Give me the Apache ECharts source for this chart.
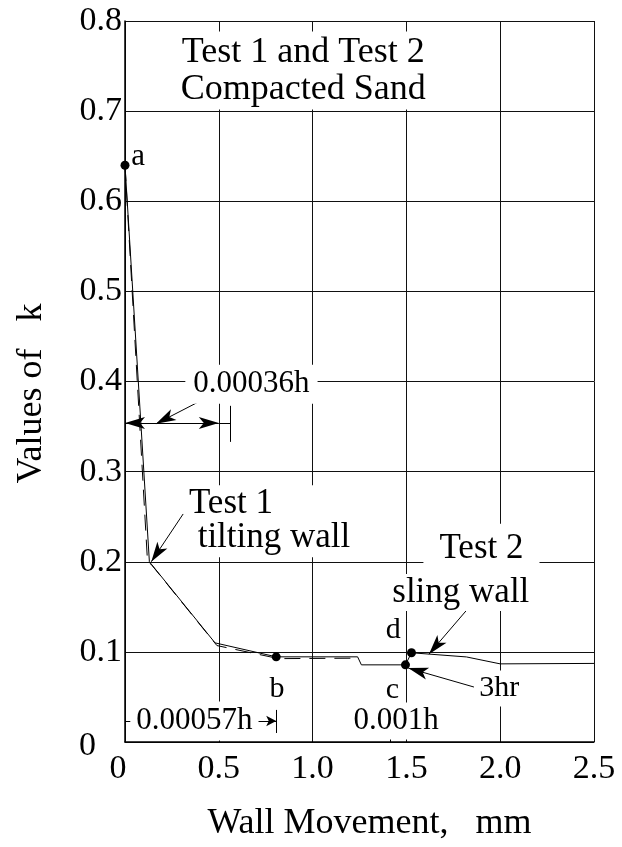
<!DOCTYPE html>
<html><head><meta charset="utf-8">
<script src="https://cdn.jsdelivr.net/npm/echarts@6/dist/echarts.min.js"></script>
<style>html,body{margin:0;padding:0;background:#fff}#c{width:622px;height:847px}</style>
</head><body><div id="c"></div>
<script>
const FONT = "'Liberation Serif','Times New Roman',serif";

// ---- data ----
const xTickLabels = ['0', '0.5', '1.0', '1.5', '2.0', '2.5'];
const yTickLabels = ['0', '0.1', '0.2', '0.3', '0.4', '0.5', '0.6', '0.7', '0.8'];
// Test 1 (tilting wall), solid
const test1X = [0, 0.13, 0.48, 0.806, 1.24, 1.26, 1.495];
const test1K = [0.64, 0.2, 0.11, 0.0945, 0.0945, 0.0856, 0.0856];
// companion (dashed) curve
const test1bX = [0, 0.12, 0.14, 0.49, 0.82, 1.22];
const test1bK = [0.64, 0.2, 0.197, 0.107, 0.0925, 0.093];
// Test 2 (sling wall) after 3 hr
const test2X = [1.495, 1.527, 1.82, 2.0, 2.5];
const test2K = [0.0856, 0.099, 0.0944, 0.0867, 0.0872];
// marked points a, b, c, d
const ptNames = ['a', 'b', 'c', 'd'];
const ptX = [0, 0.806, 1.495, 1.527];
const ptK = [0.64, 0.0945, 0.0856, 0.099];

const zip = (xs, ys) => xs.map((x, i) => [x, ys[i]]);

// ---- annotation layout (positions in axis units) ----
const notes = [
  {t: 'Test 1 and Test 2\nCompacted Sand', p: [0.95, 0.745], fs: 36, lh: 37, bg: true, pad: [3, 10, 1, 10]},
  {t: 'a', p: [0.07, 0.649], fs: 31},
  {t: '0.00036h', p: [0.674, 0.397], fs: 31, bg: true, pad: [4, 8, 4, 8]},
  {t: 'Test 1\n tilting wall', p: [0.33, 0.245], fs: 35, lh: 34, bg: true, pad: [2, 4, 2, 2], left: true},
  {t: 'Test 2', p: [1.90, 0.214], fs: 35, bg: true, pad: [10, 16, 6, 16]},
  {t: 'sling wall', p: [1.79, 0.166], fs: 35, bg: true, pad: [2, 4, 0, 4]},
  {t: 'd', p: [1.43, 0.124], fs: 30},
  {t: 'b', p: [0.81, 0.059], fs: 30},
  {t: 'c', p: [1.425, 0.058], fs: 30},
  {t: '3hr', p: [1.995, 0.0595], fs: 30, bg: true, pad: [3, 4, 3, 4]},
  {t: '0.001h', p: [1.445, 0.0233], fs: 31, bg: true, pad: [3, 3, 3, 3]},
  {t: '0.00057h', p: [0.37, 0.0233], fs: 31, bg: true, pad: [4, 6, 4, 6]}
];
const arrowSize = [9, 20];
const lines = [
  // 0.00036h dimension
  {a: [0, 0.354], b: [0.5, 0.354], sa: 'arrow', sb: 'arrow'},
  {a: [0.5, 0.354], b: [0.56, 0.354]},
  {a: [0.56, 0.373], b: [0.56, 0.333]},
  {a: [0.454, 0.384], b: [0.165, 0.353], sb: 'arrow'},
  // Test 1 pointer
  {a: [0.31, 0.253], b: [0.14, 0.2], sb: 'arrow'},
  // sling wall pointer
  {a: [1.824, 0.147], b: [1.62, 0.0975], sb: 'arrow'},
  // 3hr pointer
  {a: [1.86, 0.061], b: [1.51, 0.082], sb: 'arrow'},
  // 0.00057h
  {a: [0, 0.0233], b: [0.07, 0.0233]},
  {a: [0.69, 0.0233], b: [0.806, 0.0233], sb: 'arrow', size: [8, 10]},
  {a: [0.806, 0.0356], b: [0.806, 0.010]},
  // 0.001h tick
  {a: [1.415, 0.011], b: [1.415, 0]}
];

const chart = echarts.init(document.getElementById('c'), null, {renderer: 'canvas'});
const txt = {fontFamily: FONT, color: '#000'};

chart.setOption({
  backgroundColor: '#fff',
  animation: false,
  grid: {left: 125, right: 28, top: 21, bottom: 103},
  xAxis: {
    type: 'value', min: 0, max: 2.5, interval: 0.5,
    name: 'Wall Movement,   mm', nameLocation: 'middle', nameGap: 64,
    nameTextStyle: Object.assign({fontSize: 36, padding: [0, 0, 0, 20]}, txt),
    axisLine: {lineStyle: {color: '#000', width: 1.5}},
    axisTick: {show: false},
    splitLine: {show: true, lineStyle: {color: '#111', width: 1}},
    axisLabel: Object.assign({
      fontSize: 34, margin: 10,
      formatter: (v) => { const s = xTickLabels[Math.round(v / 0.5)]; return s === '0' ? '{z|0}' : s; },
      rich: {z: {fontSize: 34, fontFamily: FONT, color: '#000', padding: [0, 14, 0, 0]}}
    }, txt)
  },
  yAxis: {
    type: 'value', min: 0, max: 0.8, interval: 0.1,
    name: 'Values of   k', nameLocation: 'middle', nameGap: 75, nameRotate: 90,
    nameTextStyle: Object.assign({fontSize: 36, padding: [0, 24, 0, 0]}, txt),
    axisLine: {lineStyle: {color: '#000', width: 1.5}},
    axisTick: {show: false},
    splitLine: {show: true, lineStyle: {color: '#111', width: 1}},
    axisLabel: Object.assign({
      fontSize: 34, margin: 3,
      formatter: (v) => { const s = yTickLabels[Math.round(v / 0.1)]; return s === '0' ? '{z|0}' : s; },
      rich: {z: {fontSize: 34, fontFamily: FONT, color: '#000', padding: [8, 26, 0, 0]}}
    }, txt)
  },
  series: [
    {
      name: 'Test 1', type: 'line', data: zip(test1X, test1K), showSymbol: false, symbol: 'none',
      lineStyle: {color: '#000', width: 1}, z: 3
    },
    {
      name: 'Test 1 (companion)', type: 'line', data: zip(test1bX, test1bK), showSymbol: false, symbol: 'none',
      lineStyle: {color: '#000', width: 1, type: [16, 9]}, z: 3
    },
    {
      name: 'Test 2', type: 'line', data: zip(test2X, test2K), showSymbol: false, symbol: 'none',
      lineStyle: {color: '#000', width: 1}, z: 3
    },
    {
      name: 'points', type: 'scatter', data: zip(ptX, ptK).map((v, i) => ({value: v, name: ptNames[i]})),
      symbol: 'circle', symbolSize: 9, itemStyle: {color: '#000', opacity: 1}, z: 5
    },
    {
      name: 'notes', type: 'scatter', symbolSize: 0, z: 6, silent: true,
      itemStyle: {opacity: 1, color: '#000'},
      data: notes.map(n => ({
        value: n.p, name: n.t,
        label: Object.assign({
          show: true, formatter: n.t,
          position: n.left ? 'right' : 'inside',
          distance: 0, opacity: 1,
          align: n.left ? 'left' : 'center', verticalAlign: 'middle',
          fontSize: n.fs, lineHeight: n.lh || n.fs,
          backgroundColor: n.bg ? '#fff' : 'transparent',
          padding: n.pad || 0
        }, txt)
      })),
      markLine: {
        silent: true, animation: false,
        symbol: ['none', 'none'],
        label: {show: false},
        lineStyle: {color: '#000', width: 1, type: 'solid', opacity: 1},
        data: lines.map(l => [
          {coord: l.a, symbol: l.sa || 'none', symbolSize: l.size || arrowSize},
          {coord: l.b, symbol: l.sb || 'none', symbolSize: l.size || arrowSize}
        ])
      }
    }
  ]
});
</script></body></html>
